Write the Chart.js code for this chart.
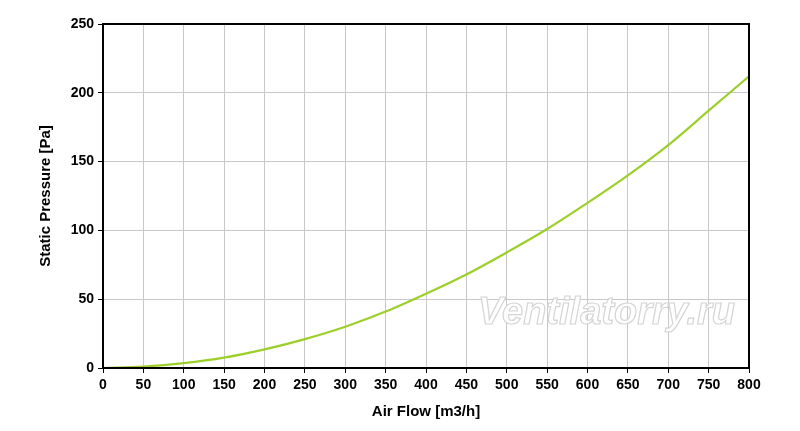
<!DOCTYPE html>
<html>
<head>
<meta charset="utf-8">
<script src="https://cdn.jsdelivr.net/npm/chart.js@4/dist/chart.umd.min.js"></script>
<style>
  html, body { margin: 0; padding: 0; background: #fff; }
  #wrap { width: 800px; height: 431px; }
</style>
</head>
<body>
<div id="wrap"><canvas id="chart"></canvas></div>
<script>
// air flow, m3/h
const airFlow = [0, 50, 100, 150, 200, 250, 300, 350, 400, 450, 500, 550, 600, 650, 700, 750, 800];
// static pressure, Pa
const staticPressure = [0, 1, 3.5, 7.5, 13.5, 21, 30, 41, 54, 68, 84, 101, 120, 140, 162, 187, 212];

const xTitle = 'Air Flow [m3/h]';
const yTitle = 'Static Pressure [Pa]';
const watermark = 'Ventilatorry.ru';

const tickFont = { family: 'Liberation Sans, Arial, sans-serif', size: 14, weight: 'bold' };
const titleFont = { family: 'Liberation Sans, Arial, sans-serif', size: 15, weight: 'bold' };

// black frame round the plot + watermark
const framePlugin = {
    id: 'frame',
    beforeDatasetsDraw(chart) {
        const ctx = chart.ctx;
        ctx.save();
        ctx.font = 'italic bold 38px Liberation Sans, Arial, sans-serif';
        ctx.textAlign = 'right';
        ctx.textBaseline = 'middle';
        ctx.fillStyle = 'rgba(255,255,255,0.9)';
        ctx.strokeStyle = '#d4d4d4';
        ctx.lineWidth = 1.2;
        ctx.fillText(watermark, 735, 314);
        ctx.strokeText(watermark, 735, 314);
        ctx.restore();
    },
    afterDraw(chart) {
        const ctx = chart.ctx;
        const a = chart.chartArea;
        ctx.save();
        ctx.strokeStyle = '#000';
        ctx.lineWidth = 2;
        ctx.strokeRect(a.left, a.top, a.right - a.left, a.bottom - a.top);
        ctx.restore();
    }
};

const data = airFlow.map((x, i) => ({ x: x, y: staticPressure[i] }));

new Chart(document.getElementById('chart'), {
    type: 'line',
    data: {
        datasets: [{
            data: data,
            borderColor: '#9ccf2a',
            borderWidth: 2.2,
            pointRadius: 0,
            fill: false,
            cubicInterpolationMode: 'monotone'
        }]
    },
    options: {
        responsive: true,
        maintainAspectRatio: false,
        animation: false,
        layout: { padding: { top: 24, right: 51, left: 0, bottom: 0 } },
        plugins: {
            legend: { display: false },
            tooltip: { enabled: false }
        },
        scales: {
            x: {
                type: 'linear',
                min: 0,
                max: 800,
                ticks: { stepSize: 50, color: '#000', font: tickFont, padding: 4, maxRotation: 0 },
                grid: { color: '#c8c8c8', lineWidth: 1, tickLength: 5, tickColor: '#000' },
                border: { color: '#000', width: 2 },
                title: { display: true, text: xTitle, color: '#000', font: titleFont, padding: { top: 2, bottom: 10 } },
                afterFit(scale) { scale.height = 63; }
            },
            y: {
                min: 0,
                max: 250,
                ticks: { stepSize: 50, color: '#000', font: tickFont, padding: 4 },
                grid: { color: '#c8c8c8', lineWidth: 1, tickLength: 5, tickColor: '#000' },
                border: { color: '#000', width: 2 },
                title: { display: true, text: yTitle, color: '#000', font: titleFont, padding: { top: 37, bottom: 0 } },
                afterFit(scale) { scale.width = 103; }
            }
        }
    },
    plugins: [framePlugin]
});
</script>
</body>
</html>
